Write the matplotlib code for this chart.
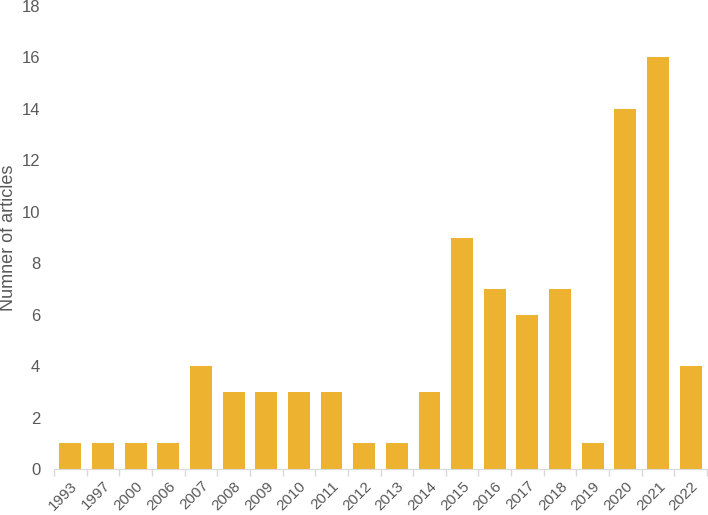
import matplotlib
matplotlib.use("Agg")
from matplotlib import pyplot as plt
import numpy as np

years = ["1993", "1997", "2000", "2006", "2007", "2008", "2009", "2010", "2011", "2012",
         "2013", "2014", "2015", "2016", "2017", "2018", "2019", "2020", "2021", "2022"]
counts = [1, 1, 1, 1, 4, 3, 3, 3, 3, 1, 1, 3, 9, 7, 6, 7, 1, 14, 16, 4]

plt.rcParams["font.family"] = ["Liberation Sans", "DejaVu Sans"]
text_color = "#595959"

fig = plt.figure(figsize=(7.08, 5.15), dpi=100)
ax = fig.add_axes([0.0763, 0.0893, 0.9223, 0.899])

x = np.arange(len(years))
ax.bar(x, counts, width=0.67, color="#EDB330")

ax.set_xlim(-0.5, len(years) - 0.5)
ax.set_ylim(0, 18)
ax.set_yticks(range(0, 19, 2))
ax.set_xticks(x)
ax.set_xticklabels(years, rotation=45, ha="right", rotation_mode="anchor")
ax.set_xticks(np.arange(-0.5, len(years), 1), minor=True)
ax.tick_params(axis="x", which="major", length=0, pad=7, labelsize=11, colors=text_color)
ax.tick_params(axis="x", which="minor", length=5, color="#D9D9D9", width=1)
ax.tick_params(axis="y", length=0, labelsize=12, colors=text_color, pad=10)

for side in ["top", "right", "left"]:
    ax.spines[side].set_visible(False)
ax.spines["bottom"].set_color("#D9D9D9")

fig.text(9 / 708, 1 - 238 / 515, "Numner of articles", rotation=90, fontsize=13,
         color=text_color, ha="center", va="center")

fig.savefig("out.png", dpi=100)
